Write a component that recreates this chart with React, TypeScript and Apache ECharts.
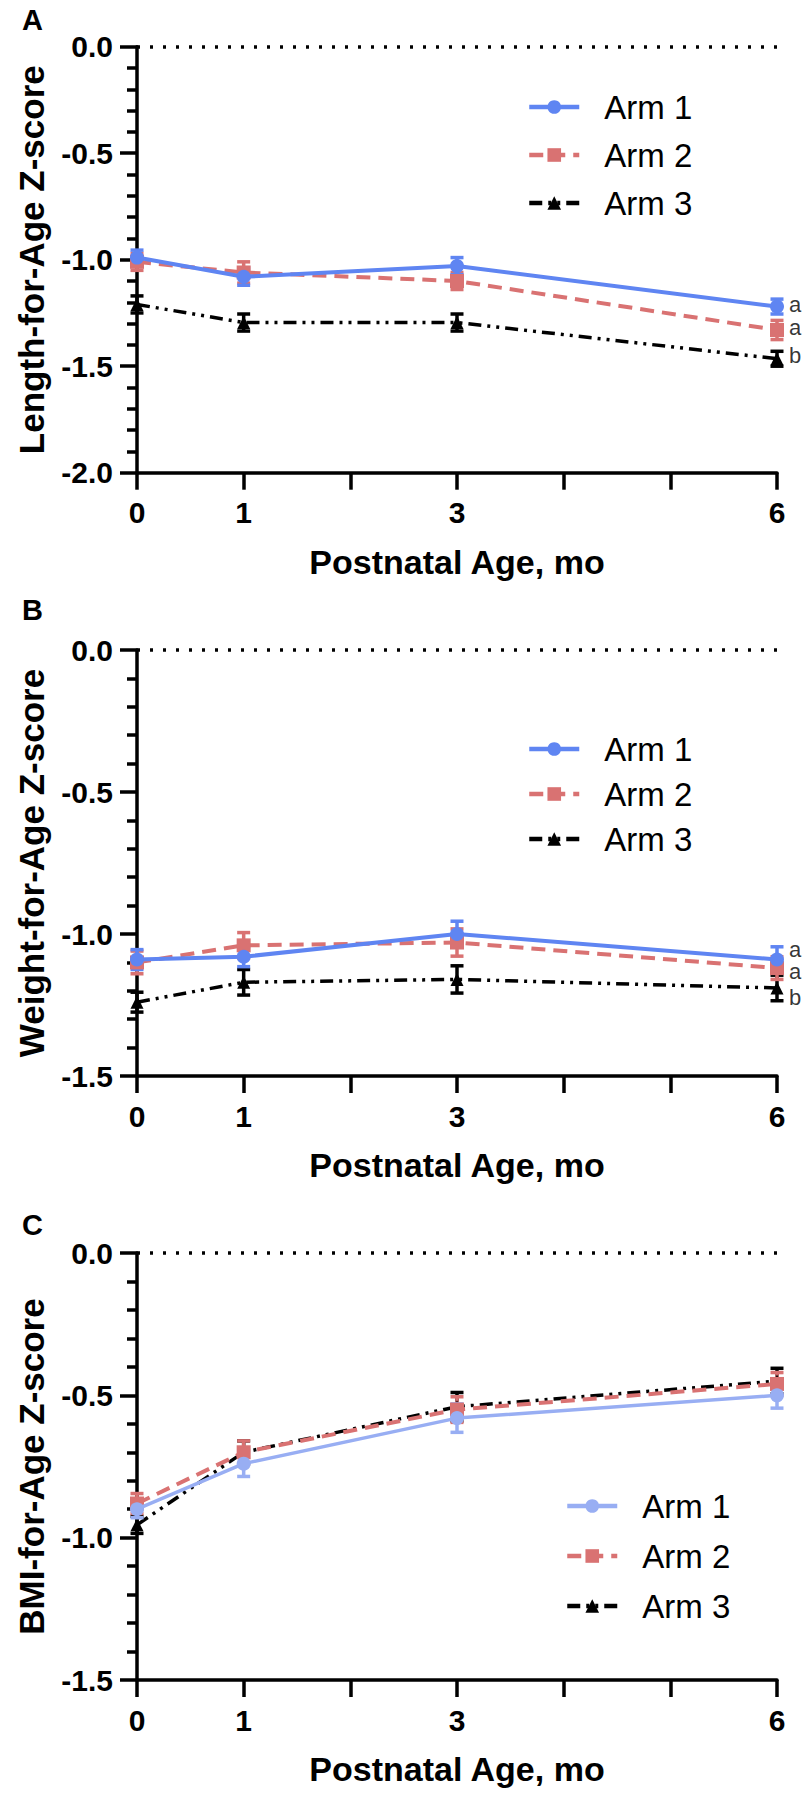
import React, { useEffect, useRef } from "react";
import * as echarts from "echarts";

// ---------- data ----------
const ages = [0, 1, 3, 6];
const xTickLabels = [0, 1, 3, 6];
const armNames = ["Arm 1", "Arm 2", "Arm 3"];

// Panel A: Length-for-Age Z-score
const lazArm1 = [-0.99, -1.08, -1.03, -1.22];
const lazArm1Sem = [0.035, 0.04, 0.04, 0.035];
const lazArm2 = [-1.01, -1.06, -1.1, -1.33];
const lazArm2Sem = [0.04, 0.05, 0.04, 0.045];
const lazArm3 = [-1.21, -1.295, -1.295, -1.465];
const lazArm3Sem = [0.04, 0.04, 0.04, 0.035];
const lazSigText = ["a", "a", "b"];
const lazSigY = [-1.21, -1.32, -1.45];

// Panel B: Weight-for-Age Z-score
const wazArm1 = [-1.09, -1.08, -1.0, -1.09];
const wazArm1Sem = [0.035, 0.035, 0.045, 0.045];
const wazArm2 = [-1.1, -1.04, -1.03, -1.12];
const wazArm2Sem = [0.04, 0.045, 0.048, 0.04];
const wazArm3 = [-1.24, -1.17, -1.16, -1.19];
const wazArm3Sem = [0.035, 0.045, 0.048, 0.045];
const wazSigText = ["a", "a", "b"];
const wazSigY = [-1.055, -1.133, -1.225];

// Panel C: BMI-for-Age Z-score
const bazArm1 = [-0.9, -0.74, -0.58, -0.5];
const bazArm1Sem = [0.03, 0.045, 0.05, 0.045];
const bazArm2 = [-0.88, -0.7, -0.55, -0.46];
const bazArm2Sem = [0.035, 0.04, 0.045, 0.04];
const bazArm3 = [-0.955, -0.7, -0.54, -0.45];
const bazArm3Sem = [0.03, 0.04, 0.05, 0.045];

// ---------- styles ----------
const FONT = "Liberation Sans, Arial, Helvetica, sans-serif";
const BLUE = "#5F85F2";
const BLUE_LIGHT = "#98AEF3";
const RED = "#D97272";
const BLACK = "#000000";
const DASH = [14, 8];
const DASH_DOT_DOT = [13, 6, 3, 6, 3, 6];

type Arm = {
  name: string;
  values: number[];
  sem: number[];
  color: string;
  lineType: any;
  width: number;
  symbol: string;
  symbolSize: number;
  z: number;
};

type PanelCfg = {
  letter: string;
  letterTop: number;
  height: number;
  gridTop: number;
  gridHeight: number;
  yMin: number;
  yTitle: string;
  arms: Arm[];
  sigText: string[];
  sigY: number[];
  legendLeft: number;
  legendTop: number;
  legendGap: number;
};

function armsFor(
  v1: number[], s1: number[], v2: number[], s2: number[], v3: number[], s3: number[], blue: string, w1: number
): Arm[] {
  return [
    { name: armNames[0], values: v1, sem: s1, color: blue, lineType: "solid", width: w1, symbol: "circle", symbolSize: 14, z: 5 },
    { name: armNames[1], values: v2, sem: s2, color: RED, lineType: DASH, width: 4, symbol: "rect", symbolSize: 14, z: 4 },
    { name: armNames[2], values: v3, sem: s3, color: BLACK, lineType: DASH_DOT_DOT, width: 3.5, symbol: "triangle", symbolSize: 13, z: 3 },
  ];
}

const panels: PanelCfg[] = [
  {
    letter: "A", letterTop: 5, height: 590, gridTop: 46.7, gridHeight: 426, yMin: -2,
    yTitle: "Length-for-Age Z-score",
    arms: armsFor(lazArm1, lazArm1Sem, lazArm2, lazArm2Sem, lazArm3, lazArm3Sem, BLUE, 4),
    sigText: lazSigText, sigY: lazSigY,
    legendLeft: 522, legendTop: 85, legendGap: 14,
  },
  {
    letter: "B", letterTop: 5, height: 605, gridTop: 60, gridHeight: 426, yMin: -1.5,
    yTitle: "Weight-for-Age Z-score",
    arms: armsFor(wazArm1, wazArm1Sem, wazArm2, wazArm2Sem, wazArm3, wazArm3Sem, BLUE, 4),
    sigText: wazSigText, sigY: wazSigY,
    legendLeft: 522, legendTop: 137, legendGap: 11,
  },
  {
    letter: "C", letterTop: 15, height: 605, gridTop: 58, gridHeight: 427, yMin: -1.5,
    yTitle: "BMI-for-Age Z-score",
    arms: armsFor(bazArm1, bazArm1Sem, bazArm2, bazArm2Sem, bazArm3, bazArm3Sem, BLUE_LIGHT, 3.5),
    sigText: [], sigY: [],
    legendLeft: 560, legendTop: 289, legendGap: 16,
  },
];

function buildOption(cfg: PanelCfg): any {
  const series: any[] = [];
  cfg.arms.forEach((arm) => {
    series.push({
      type: "custom",
      name: arm.name + " SEM",
      z: arm.z,
      data: ages.map((a, i) => [a, arm.values[i] - arm.sem[i], arm.values[i] + arm.sem[i]]),
      encode: { x: 0, y: [1, 2] },
      renderItem: (_p: any, api: any) => {
        const x = api.value(0);
        const lo = api.coord([x, api.value(1)]);
        const hi = api.coord([x, api.value(2)]);
        const w = 6.5;
        const st = { stroke: arm.color, lineWidth: 3.5 };
        return {
          type: "group",
          children: [
            { type: "line", shape: { x1: hi[0], y1: hi[1], x2: lo[0], y2: lo[1] }, style: st },
            { type: "line", shape: { x1: hi[0] - w, y1: hi[1], x2: hi[0] + w, y2: hi[1] }, style: st },
            { type: "line", shape: { x1: lo[0] - w, y1: lo[1], x2: lo[0] + w, y2: lo[1] }, style: st },
          ],
        };
      },
      silent: true,
    });
  });
  cfg.arms.forEach((arm, k) => {
    const s: any = {
      type: "line",
      name: arm.name,
      z: arm.z + 1,
      data: ages.map((a, i) => [a, arm.values[i]]),
      symbol: arm.symbol,
      symbolSize: arm.symbolSize,
      showSymbol: true,
      lineStyle: { color: arm.color, width: arm.width, type: arm.lineType },
      itemStyle: { color: arm.color, borderWidth: 0 },
      silent: true,
    };
    if (k === 0) {
      s.markLine = {
        silent: true,
        symbol: ["none", "none"],
        label: { show: false },
        lineStyle: { color: BLACK, width: 3.5, type: [3, 10] },
        data: [{ yAxis: 0 }],
        z: 1,
      };
    }
    series.push(s);
  });
  if (cfg.sigText.length) {
    series.push({
      type: "scatter",
      name: "sig",
      symbolSize: 0,
      z: 10,
      data: cfg.sigY.map((y, i) => ({ value: [ages[ages.length - 1], y], label: { formatter: cfg.sigText[i] } })),
      label: {
        show: true,
        position: "right",
        distance: 12,
        fontSize: 22,
        fontFamily: FONT,
        color: BLACK,
      },
      silent: true,
    });
  }

  return {
    animation: false,
    backgroundColor: "#ffffff",
    grid: { left: 137, right: 32, top: cfg.gridTop, height: cfg.gridHeight, containLabel: false },
    legend: {
      data: armNames,
      orient: "vertical",
      left: cfg.legendLeft,
      top: cfg.legendTop,
      itemWidth: 50,
      itemHeight: 17,
      itemGap: cfg.legendGap,
      selectedMode: false,
      lineStyle: { width: 4.5 },
      textStyle: { fontSize: 33, fontFamily: FONT, color: BLACK, lineHeight: 34, padding: [0, 0, 0, 20] },
    },
    graphic: [
      {
        type: "text",
        left: 22,
        top: cfg.letterTop,
        style: { text: cfg.letter, font: "bold 29px " + FONT, fill: BLACK },
      },
    ],
    xAxis: {
      type: "value",
      min: 0,
      max: 6,
      interval: 1,
      name: "Postnatal Age, mo",
      nameLocation: "middle",
      nameGap: 72,
      nameTextStyle: { fontSize: 34, fontWeight: "bold", fontFamily: FONT, color: BLACK },
      axisLine: { show: true, onZero: false, lineStyle: { color: BLACK, width: 3.5 } },
      axisTick: { show: true, length: 17, lineStyle: { color: BLACK, width: 3.5 } },
      axisLabel: {
        margin: 25,
        fontSize: 30,
        fontWeight: "bold",
        fontFamily: FONT,
        color: BLACK,
        formatter: (v: number) => (xTickLabels.indexOf(v) >= 0 ? String(v) : ""),
      },
      splitLine: { show: false },
    },
    yAxis: {
      type: "value",
      min: cfg.yMin,
      max: 0,
      interval: 0.5,
      name: cfg.yTitle,
      nameLocation: "middle",
      nameGap: 88,
      nameRotate: 90,
      nameTextStyle: { fontSize: 35, fontWeight: "bold", fontFamily: FONT, color: BLACK },
      axisLine: { show: true, lineStyle: { color: BLACK, width: 3.5 } },
      axisTick: { show: true, length: 17, lineStyle: { color: BLACK, width: 3.5 } },
      minorTick: { show: true, splitNumber: 5, length: 10, lineStyle: { color: BLACK, width: 3.5 } },
      axisLabel: {
        margin: 24,
        fontSize: 30,
        fontWeight: "bold",
        fontFamily: FONT,
        color: BLACK,
        formatter: (v: number) => v.toFixed(1),
      },
      splitLine: { show: false },
      minorSplitLine: { show: false },
    },
    series,
  };
}

function Panel({ cfg }: { cfg: PanelCfg }) {
  const ref = useRef<HTMLDivElement>(null);
  useEffect(() => {
    if (!ref.current) return;
    const chart = echarts.init(ref.current, undefined, { renderer: "svg" });
    chart.setOption(buildOption(cfg));
    return () => chart.dispose();
  }, [cfg]);
  return <div ref={ref} style={{ width: 809, height: cfg.height }} />;
}

export default function App() {
  useEffect(() => {
    document.body.style.margin = "0";
  }, []);
  return (
    <div style={{ width: 809, height: 1800, background: "#fff" }}>
      {panels.map((p) => (
        <Panel key={p.letter} cfg={p} />
      ))}
    </div>
  );
}
